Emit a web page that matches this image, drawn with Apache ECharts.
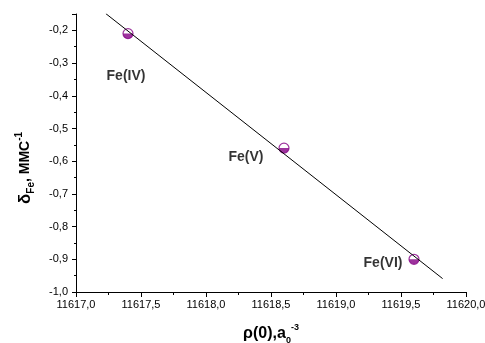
<!DOCTYPE html>
<html><head><meta charset="utf-8">
<script src="https://cdn.jsdelivr.net/npm/echarts@6/dist/echarts.min.js"></script>
<style>html,body{margin:0;padding:0;background:#fff}#c{width:485px;height:343px}</style>
</head><body><div id="c"></div>
<script>
const pointLabels = ['Fe(IV)', 'Fe(V)', 'Fe(VI)'];
const pointX = [11617.4, 11618.6, 11619.6];
const pointY = [-0.21, -0.56, -0.90];
const fitX = [11617.23, 11619.82];
const fitY = [-0.149, -0.959];
const xTicks = [11617.0, 11617.5, 11618.0, 11618.5, 11619.0, 11619.5, 11620.0];
const yTicks = [-1.0, -0.9, -0.8, -0.7, -0.6, -0.5, -0.4, -0.3, -0.2];

const labelOffsets = [[-2, 40], [-38, 7], [-31, 1]];
const F = 'Liberation Sans, Arial, sans-serif';
const purple = '#850085';

const chart = echarts.init(document.getElementById('c'), null, {renderer: 'canvas'});
const fmt = v => v.toFixed(1).replace('.', ',');
chart.setOption({
  animation: false,
  grid: {left: 76, right: 19, top: 14, bottom: 51, containLabel: false, outerBoundsMode: 'none'},
  xAxis: {
    type: 'value', min: xTicks[0], max: xTicks[xTicks.length - 1], interval: 0.5,
    axisLine: {lineStyle: {color: '#000', width: 1}},
    axisTick: {show: true, length: 5, inside: false, lineStyle: {color: '#000'}},
    minorTick: {show: true, splitNumber: 2, length: 3, lineStyle: {color: '#000'}},
    splitLine: {show: false},
    axisLabel: {color: '#000', fontFamily: F, fontSize: 11, margin: 7, formatter: v => fmt(v)},
    name: '{b|ρ(0),a}{sub|0}{sup|-3}', nameLocation: 'middle', nameGap: 31,
    nameTextStyle: {rich: {
      b: {fontFamily: F, fontSize: 16, fontWeight: 'bold', color: '#000', lineHeight: 22},
      sub: {fontFamily: F, fontSize: 9, fontWeight: 'bold', color: '#000', verticalAlign: 'bottom', lineHeight: 12},
      sup: {fontFamily: F, fontSize: 9, fontWeight: 'bold', color: '#000', verticalAlign: 'top', lineHeight: 10}
    }}
  },
  yAxis: {
    type: 'value', min: yTicks[0], max: -0.15, interval: 0.1,
    axisLine: {show: true, lineStyle: {color: '#000', width: 1}},
    axisTick: {show: true, length: 4, inside: false, lineStyle: {color: '#000'}},
    minorTick: {show: true, splitNumber: 2, length: 2, lineStyle: {color: '#000'}},
    splitLine: {show: false},
    axisLabel: {color: '#000', fontFamily: F, fontSize: 11, margin: 8,
      formatter: v => {
        const hit = yTicks.some(t => Math.abs(t - v) < 1e-6);
        return hit ? fmt(v) : '';
      }},
    name: '{d|δ}{sub|Fe}{b|, ММС}{sup|-1}', nameLocation: 'middle', nameGap: 40, nameRotate: 90,
    nameTextStyle: {padding: [0, 30, 0, 0], rich: {
      d: {fontFamily: F, fontSize: 17, fontWeight: 'bold', color: '#000', lineHeight: 22},
      b: {fontFamily: F, fontSize: 14, fontWeight: 'bold', color: '#000', lineHeight: 22},
      sub: {fontFamily: F, fontSize: 10, fontWeight: 'bold', color: '#000', verticalAlign: 'bottom', lineHeight: 12},
      sup: {fontFamily: F, fontSize: 10, fontWeight: 'bold', color: '#000', verticalAlign: 'top', lineHeight: 10}
    }}
  },
  series: [
    {
      type: 'line', data: fitX.map((x, i) => [x, fitY[i]]),
      showSymbol: false, symbol: 'none', lineStyle: {color: '#000', width: 1}, z: 6
    },
    {
      type: 'scatter', data: pointX.map((x, i) => [x, pointY[i]]),
      symbol: 'circle', symbolSize: 10,
      itemStyle: {color: '#fff', borderColor: purple, borderWidth: 1.2}, z: 3
    },
    {
      type: 'scatter',
      data: pointX.map((x, i) => ({
        value: [x, pointY[i]],
        label: {show: true, formatter: pointLabels[i], position: 'inside', offset: labelOffsets[i]}
      })),
      symbol: 'path://M-1,0 A1,1 0 0,0 1,0 Z', symbolSize: [10, 5], symbolOffset: [0, 2.5],
      itemStyle: {color: purple},
      label: {color: '#000', fontFamily: F, fontSize: 14, fontWeight: 'bold'}, z: 4
    }
  ]
});
</script></body></html>
